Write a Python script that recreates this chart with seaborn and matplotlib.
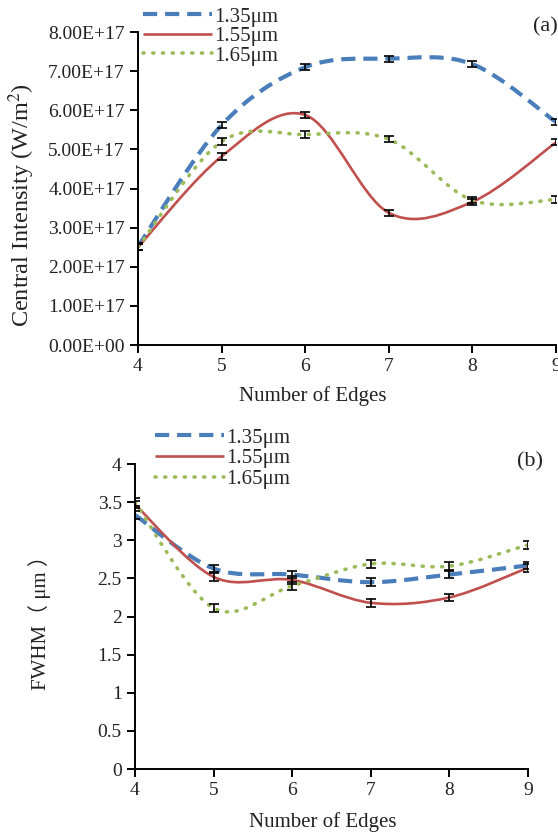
import seaborn as sns
import matplotlib.pyplot as plt
import numpy as np
import pandas as pd
from matplotlib.path import Path
from matplotlib.patches import PathPatch
from matplotlib.lines import Line2D
from matplotlib.ticker import FuncFormatter, MultipleLocator

# data
edges = [4, 5, 6, 7, 8, 9]
labels = ['1.35μm', '1.55μm', '1.65μm']

intensity_135 = [2.52e17, 5.62e17, 7.10e17, 7.32e17, 7.18e17, 5.70e17]
intensity_155 = [2.50e17, 4.82e17, 5.88e17, 3.38e17, 3.66e17, 5.18e17]
intensity_165 = [2.50e17, 5.20e17, 5.38e17, 5.26e17, 3.70e17, 3.72e17]
intensity_err = [0.08e17, 0.08e17, 0.08e17, 0.08e17, 0.08e17, 0.08e17]

fwhm_135 = [3.33, 2.63, 2.55, 2.45, 2.55, 2.67]
fwhm_155 = [3.47, 2.52, 2.48, 2.18, 2.25, 2.64]
fwhm_165 = [3.50, 2.11, 2.40, 2.69, 2.66, 2.94]
fwhm_err = [0.05, 0.05, 0.05, 0.05, 0.05, 0.05]

df_a = pd.DataFrame({'edges': edges * 3,
                     'value': intensity_135 + intensity_155 + intensity_165,
                     'err': intensity_err * 3,
                     'wl': np.repeat(labels, 6)})
df_b = pd.DataFrame({'edges': edges * 3,
                     'value': fwhm_135 + fwhm_155 + fwhm_165,
                     'err': fwhm_err * 3,
                     'wl': np.repeat(labels, 6)})

sns.set_theme(style='ticks')
plt.rcParams['font.family'] = ['Liberation Serif', 'Noto Sans CJK JP', 'DejaVu Serif']
plt.rcParams['mathtext.fontset'] = 'stix'

colors = {'1.35μm': '#4a7ebb', '1.55μm': '#c0504d', '1.65μm': '#9bbb59'}
styles = {'1.35μm': dict(lw=3.0, dashes=(3.4, 1.9), capstyle='butt'),
          '1.55μm': dict(lw=1.9, dashes=None, capstyle='round'),
          '1.65μm': dict(lw=2.6, dashes=(0.3, 2.4), capstyle='round')}


def smooth_line(ax, x, y, wl):
    # excel style smoothed line (bezier through the points)
    x = np.asarray(x, float)
    y = np.asarray(y, float)
    n = len(x)
    verts = [(x[0], y[0])]
    codes = [Path.MOVETO]
    for i in range(n - 1):
        p0 = max(i - 1, 0)
        p3 = min(i + 2, n - 1)
        c1 = (x[i] + (x[i + 1] - x[p0]) / 6, y[i] + (y[i + 1] - y[p0]) / 6)
        c2 = (x[i + 1] - (x[p3] - x[i]) / 6, y[i + 1] - (y[p3] - y[i]) / 6)
        verts += [c1, c2, (x[i + 1], y[i + 1])]
        codes += [Path.CURVE4] * 3
    st = styles[wl]
    patch = PathPatch(Path(verts, codes), facecolor='none', edgecolor=colors[wl],
                      lw=st['lw'], capstyle=st['capstyle'], zorder=2)
    if st['dashes'] is not None:
        patch.set_linestyle((0, st['dashes']))
    ax.add_patch(patch)


def draw_panel(ax, df):
    for wl in labels:
        tmp = df[df['wl'] == wl]
        smooth_line(ax, tmp['edges'], tmp['value'], wl)
        ax.errorbar(tmp['edges'], tmp['value'], yerr=tmp['err'], fmt='none',
                    ecolor='black', elinewidth=1.2, capsize=3.5, capthick=1.2,
                    zorder=3)
    sns.despine(ax=ax)
    for s in ['left', 'bottom']:
        ax.spines[s].set_linewidth(1.4)
        ax.spines[s].set_color('black')
    ax.tick_params(direction='out', length=6, width=1.4, labelsize=14,
                   colors='black', labelcolor='#222222')
    ax.xaxis.set_major_locator(MultipleLocator(1))


def legend_handles():
    hs = []
    for wl in labels:
        st = styles[wl]
        h = Line2D([], [], color=colors[wl], lw=st['lw'],
                   dash_capstyle=st['capstyle'], solid_capstyle='butt')
        if st['dashes'] is not None:
            h.set_dashes(st['dashes'])
        hs.append(h)
    return hs


fig = plt.figure(figsize=(5.58, 8.32), dpi=100)
ax1 = fig.add_axes([0.2473, 0.5853, 0.7491, 0.3762])
ax2 = fig.add_axes([0.2419, 0.0757, 0.7043, 0.3666])

# (a) central intensity
draw_panel(ax1, df_a)
ax1.set_xlim(4, 9)
ax1.set_ylim(0, 8e17)
ax1.yaxis.set_major_locator(MultipleLocator(1e17))
ax1.yaxis.set_major_formatter(FuncFormatter(lambda v, p: f'{v:.2E}'))
ax1.set_xlabel('')
ax1.set_ylabel('')
fig.text(22 / 558, 1 - 205 / 832, 'Central Intensity (W/m$^2$)', rotation=90,
         ha='center', va='center', fontsize=17.5, color='#222222')
fig.text(313 / 558, 1 - 396 / 832, 'Number of Edges', ha='center',
         va='center', fontsize=15, color='#222222')
fig.text(545 / 558, 1 - 27 / 832, '(a)', ha='center', va='center',
         fontsize=16, color='#222222')
fig.legend(legend_handles(), labels, loc='upper left',
           bbox_to_anchor=(143 / 558, 1 - 7 / 832), frameon=False,
           fontsize=15, handlelength=3.3, handletextpad=0.1,
           labelspacing=0.0, borderpad=0, borderaxespad=0)

# (b) FWHM
draw_panel(ax2, df_b)
ax2.set_xlim(4, 9)
ax2.set_ylim(0, 4)
ax2.yaxis.set_major_locator(MultipleLocator(0.5))
ax2.yaxis.set_major_formatter(FuncFormatter(lambda v, p: f'{v:g}'))
ax2.set_xlabel('')
ax2.set_ylabel('')
fig.text(40 / 558, 1 - 618 / 832, 'FWHM（ μm ）', rotation=90,
         ha='center', va='center', fontsize=15, color='#222222')
fig.text(323 / 558, 1 - 822 / 832, 'Number of Edges', ha='center',
         va='center', fontsize=15, color='#222222')
fig.text(530 / 558, 1 - 462 / 832, '(b)', ha='center', va='center',
         fontsize=16, color='#222222')
fig.legend(legend_handles(), labels, loc='upper left',
           bbox_to_anchor=(155 / 558, 1 - 428 / 832), frameon=False,
           fontsize=15, handlelength=3.3, handletextpad=0.1,
           labelspacing=0.05, borderpad=0, borderaxespad=0)

fig.savefig('out.png', dpi=100)
plt.close(fig)
